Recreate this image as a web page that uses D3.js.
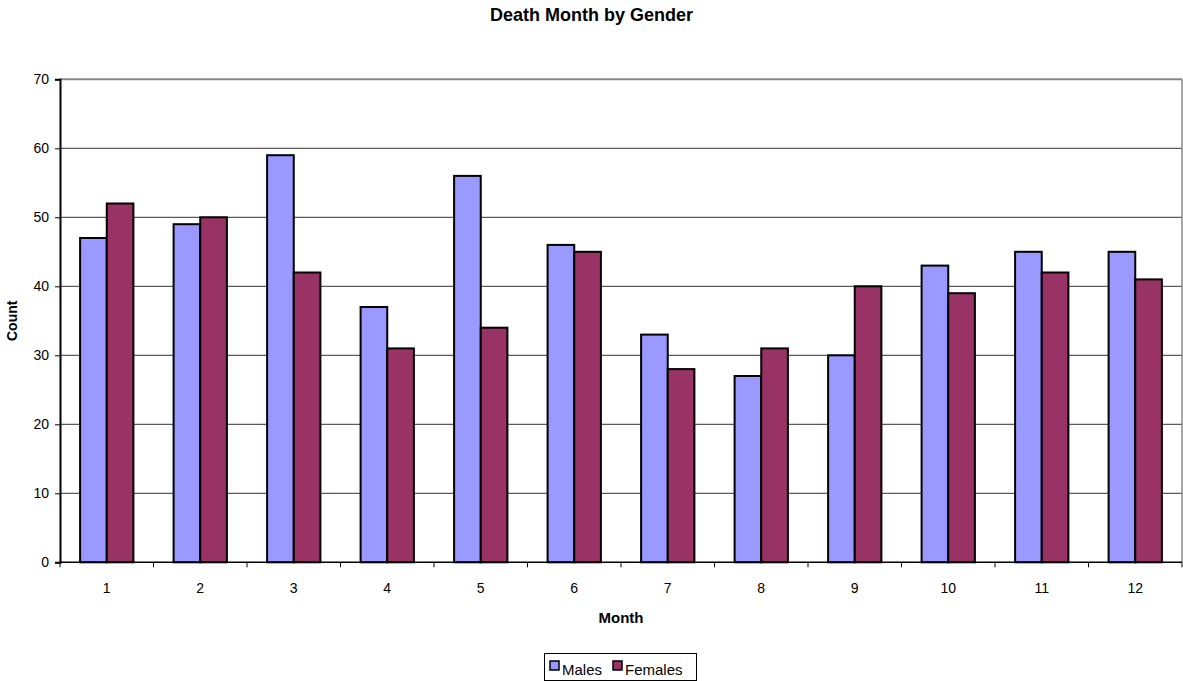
<!DOCTYPE html>
<html><head><meta charset="utf-8">
<script src="https://cdn.jsdelivr.net/npm/d3@7"></script>
<style>body{margin:0;background:#fff;} text{font-family:"Liberation Sans",Arial,sans-serif;}</style>
</head><body>
<svg id="c" width="1183" height="681"></svg>
<script>
const months = ["1","2","3","4","5","6","7","8","9","10","11","12"];
const males = [47,49,59,37,56,46,33,27,30,43,45,45];
const females = [52,50,42,31,34,45,28,31,40,39,42,41];
const seriesNames = ["Males","Females"];
const seriesColors = ["#9999FF","#993366"];
const yTicks = [0,10,20,30,40,50,60,70];

const svg = d3.select("#c");
const L=60, R=1182, T=79.3, B=562.3;
const x = d3.scaleBand().domain(months).range([L,R]).paddingInner(0.43).paddingOuter(0.215);
const xs = d3.scaleBand().domain(seriesNames).range([0,x.bandwidth()]);
const y = d3.scaleLinear().domain([0,70]).range([B,T]);

// gridlines
svg.append("g").selectAll("line").data(yTicks.filter(d=>d>0&&d<70)).join("line")
  .attr("x1",L).attr("x2",R).attr("y1",d=>y(d)).attr("y2",d=>y(d))
  .attr("stroke","#333").attr("stroke-width",1);
// top & right border
svg.append("line").attr("x1",L).attr("x2",R).attr("y1",y(70)).attr("y2",y(70)).attr("stroke","#888").attr("stroke-width",2);
svg.append("line").attr("x1",R).attr("x2",R).attr("y1",T).attr("y2",B).attr("stroke","#888").attr("stroke-width",1.5);

// bars
const data = months.map((m,i)=>({m, vals:[males[i],females[i]]}));
const g = svg.append("g").selectAll("g").data(data).join("g").attr("transform",d=>`translate(${x(d.m)},0)`);
g.selectAll("rect").data(d=>d.vals.map((v,j)=>({v,s:seriesNames[j],c:seriesColors[j]}))).join("rect")
  .attr("x",d=>xs(d.s)).attr("width",xs.bandwidth())
  .attr("y",d=>y(d.v)).attr("height",d=>B-y(d.v))
  .attr("fill",d=>d.c).attr("stroke","#000").attr("stroke-width",2);

// y axis
const ya = d3.axisLeft(y).tickValues(yTicks).tickSize(5).tickPadding(6);
const yg = svg.append("g").attr("transform",`translate(${L},0)`).call(ya);
yg.select(".domain").attr("stroke","#000").attr("stroke-width",2);
yg.selectAll("text").attr("font-size",14).attr("fill","#000").style("font-family","'Liberation Sans',Arial,sans-serif");

// x axis baseline + ticks between categories
svg.append("line").attr("x1",L).attr("x2",R).attr("y1",B).attr("y2",B).attr("stroke","#000").attr("stroke-width",1.5);
const bounds = d3.range(months.length+1).map(i=>L+i*(R-L)/months.length);
svg.append("g").selectAll("line").data(bounds).join("line")
  .attr("x1",d=>d).attr("x2",d=>d).attr("y1",B).attr("y2",B+5).attr("stroke","#000");
svg.append("g").selectAll("text").data(months).join("text")
  .attr("x",d=>x(d)+x.bandwidth()/2).attr("y",B+31).attr("text-anchor","middle")
  .attr("font-size",14).text(d=>d);

// titles
svg.append("text").attr("x",591.5).attr("y",21).attr("text-anchor","middle").attr("font-size",18).attr("font-weight","bold").text("Death Month by Gender");
svg.append("text").attr("x",(L+R)/2).attr("y",623).attr("text-anchor","middle").attr("font-size",15).attr("font-weight","bold").text("Month");
svg.append("text").attr("transform",`translate(17,${(T+B)/2}) rotate(-90)`).attr("text-anchor","middle").attr("font-size",14).attr("font-weight","bold").text("Count");

// legend
const lg = svg.append("g");
lg.append("rect").attr("x",544.5).attr("y",653.5).attr("width",152).attr("height",27).attr("fill","#fff").attr("stroke","#000").attr("stroke-width",1);
const items = [{n:"Males",c:seriesColors[0],x:550},{n:"Females",c:seriesColors[1],x:613}];
items.forEach(it=>{
  lg.append("rect").attr("x",it.x).attr("y",661).attr("width",9).attr("height",9).attr("fill",it.c).attr("stroke","#000").attr("stroke-width",1.5);
  lg.append("text").attr("x",it.x+12).attr("y",675).attr("font-size",15).text(it.n);
});
</script>
</body></html>
